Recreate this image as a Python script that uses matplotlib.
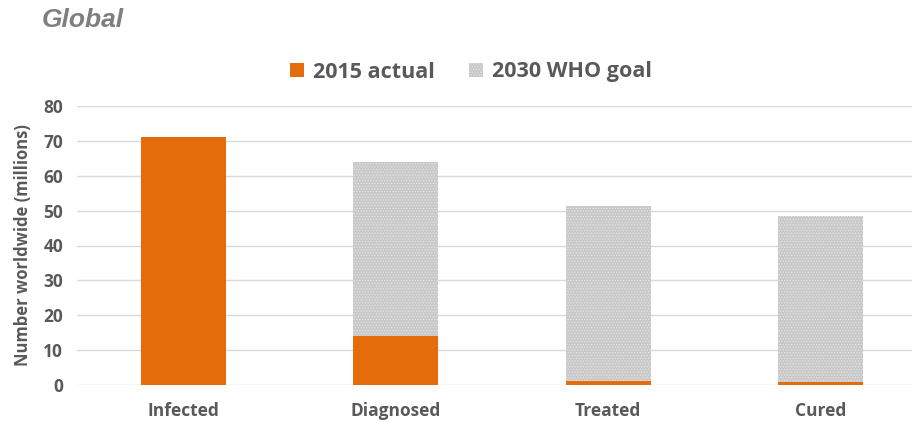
import matplotlib.pyplot as plt
from matplotlib.patches import Patch

# values (millions)
categories = ['Infected', 'Diagnosed', 'Treated', 'Cured']
actual_2015 = [71.0, 14.0, 1.2, 0.8]
goal_2030 = [0.0, 64.0, 51.2, 48.6]
y_ticks = [0, 10, 20, 30, 40, 50, 60, 70, 80]

orange = '#E46C0A'
grey_fill = '#c8c8c8'
text_col = '#595959'

plt.rcParams['font.family'] = ['Open Sans', 'DejaVu Sans']
plt.rcParams['hatch.linewidth'] = 0.6

fig = plt.figure(figsize=(9.15, 4.25), dpi=100)
ax = fig.add_axes([77 / 915, 40 / 425, 835 / 915, 279 / 425])

x = list(range(len(categories)))
ax.bar(x, goal_2030, width=0.4, color=grey_fill, edgecolor='#e4e4e4',
       hatch='......', linewidth=0, zorder=2)
ax.bar(x, actual_2015, width=0.4, color=orange, linewidth=0, zorder=3)

ax.set_xlim(-0.5, 3.43)
ax.set_ylim(0, 80)
ax.set_yticks(y_ticks)
ax.set_xticks(x)
ax.set_xticklabels(categories)
ax.grid(axis='y', color='#d9d9d9', linewidth=1, zorder=0)
ax.set_axisbelow(True)
for s in ax.spines.values():
    s.set_visible(False)
ax.tick_params(length=0, labelsize=12.5, labelcolor=text_col, pad=10)
for lbl in ax.get_xticklabels() + ax.get_yticklabels():
    lbl.set_fontweight('bold')
ax.tick_params(axis='x', pad=12)

ax.set_ylabel('Number worldwide (millions)', fontsize=12, fontweight='bold',
              color=text_col, labelpad=8)

handles = [Patch(facecolor=orange, linewidth=0),
           Patch(facecolor=grey_fill, edgecolor='#e4e4e4', hatch='......', linewidth=0)]
fig.legend(handles, ['2015 actual', '2030 WHO goal'], loc='center',
           bbox_to_anchor=(471 / 915, 1 - 72 / 425), ncol=2, frameon=False,
           prop={'size': 15.5, 'weight': 'bold'}, labelcolor=text_col,
           handlelength=0.65, handleheight=0.65, handletextpad=0.4,
           columnspacing=1.6)

fig.text(42 / 915, 1 - 20 / 425, 'Global', fontsize=19, fontweight='bold',
         fontstyle='italic', color='#7f7f7f', family='Liberation Sans',
         va='center', ha='left')

fig.savefig('out.png', dpi=100)
